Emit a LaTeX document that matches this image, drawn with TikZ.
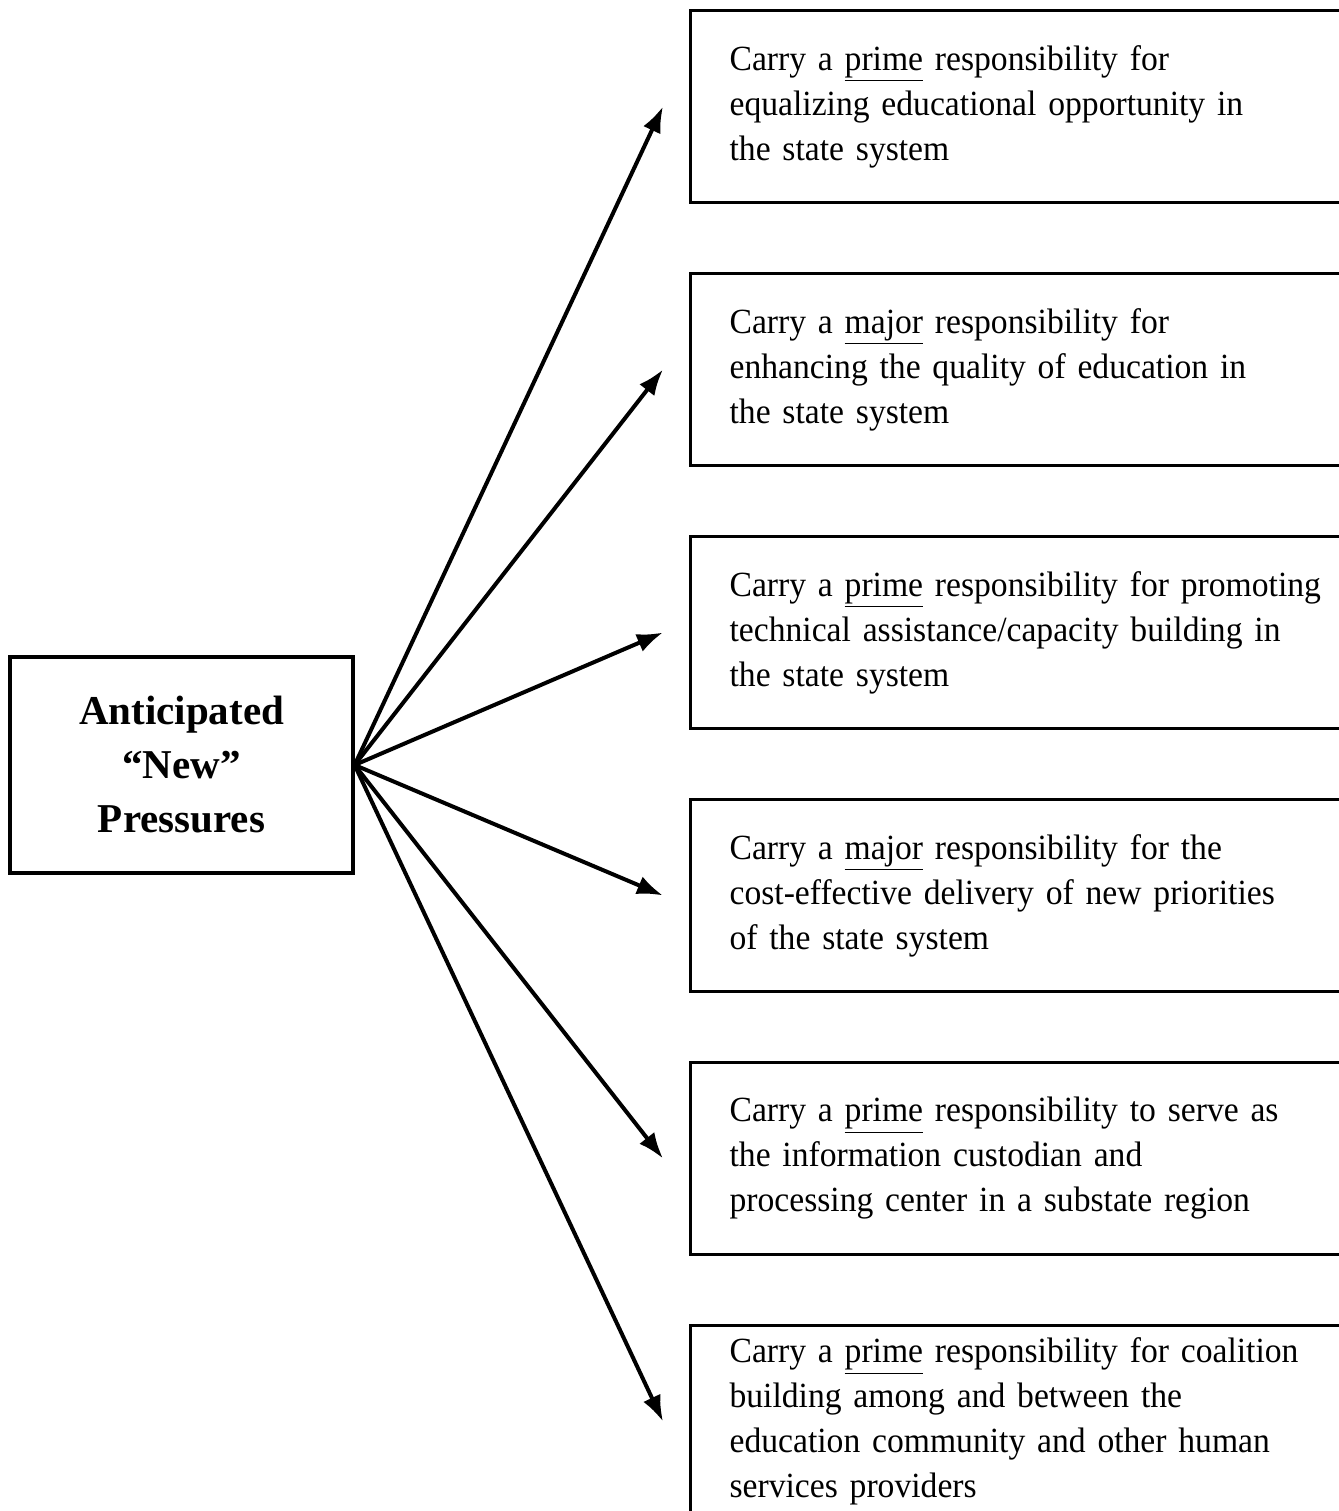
\documentclass[tikz,border=0pt]{standalone}
\usepackage{fontspec}
\setmainfont{Liberation Serif}
\newfontfamily\narrowserif{Liberation Serif}[FakeStretch=0.95]
\usetikzlibrary{arrows.meta,positioning}

\tikzset{
  pressure/.style={draw, line width=1.6pt, minimum width=171.5pt, minimum height=108pt,
    align=center, font=\fontsize{20.5}{27}\selectfont\bfseries},
  resp/.style={draw, line width=1.6pt, text width=310pt, minimum height=96pt,
    inner xsep=19.5pt, inner ysep=4pt, align=left, font=\narrowserif\fontsize{17.7}{22.5}\selectfont}
}

\begin{document}
\begin{tikzpicture}[>={Latex[length=13pt,width=9.5pt]},node distance=131.5pt,on grid]
   \useasboundingbox (0,0) rectangle (669.5pt,-755.5pt);
   \node[pressure] (NP) at (90.75pt,-382.5pt) {Anticipated\\``New''\\Pressures};

   \node [resp,anchor=west] (EQ) at (344.5pt,-53.25pt) {Carry a \underline{prime} responsibility for\\equalizing educational opportunity in\\the state system};
   \node [resp] (QU) [below= of EQ] {Carry a \underline{major} responsibility for\\enhancing the quality of education in\\the state system};
   \node [resp] (TA) [below= of QU] {Carry a \underline{prime} responsibility for promoting\\technical assistance/capacity building in\\the state system};
   \node [resp] (CE) [below= of TA] {Carry a \underline{major} responsibility for the\\cost-effective delivery of new priorities\\of the state system};
   \node [resp] (IC) [below= of CE] {Carry a \underline{prime} responsibility to serve as\\the information custodian and\\processing center in a substate region};
   \node [resp] (CB) [below= of IC] {Carry a \underline{prime} responsibility for coalition\\building among and between the\\education community and other human\\services providers};
    \path[->,line width=2pt]
    (NP.east) edge ([xshift=-13pt]EQ.west)
              edge ([xshift=-13pt]QU.west)
              edge ([xshift=-13pt]TA.west)
              edge ([xshift=-13pt]CE.west)
              edge ([xshift=-13pt]IC.west)
              edge ([xshift=-13pt]CB.west);
\end{tikzpicture}
\end{document}
